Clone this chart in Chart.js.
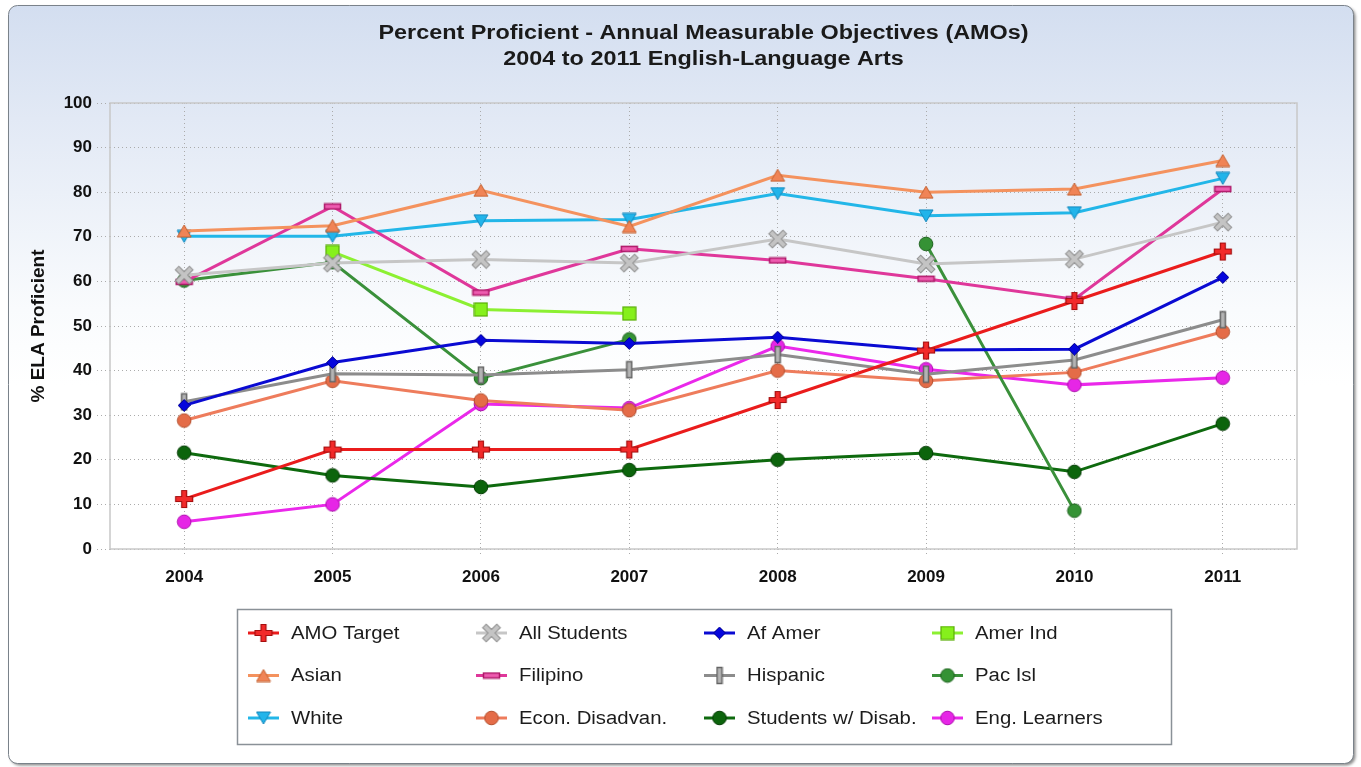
<!DOCTYPE html>
<html>
<head>
<meta charset="utf-8">
<title>Percent Proficient - AMOs</title>
<script src="https://cdn.jsdelivr.net/npm/chart.js"></script>
<style>
  html, body { margin: 0; padding: 0; background: #fff; }
  #wrap { width: 1361px; height: 767px; }
</style>
</head>
<body>
<div id="wrap"><canvas id="myChart" width="1361" height="767"></canvas></div>
<script>
var titleLines = ['Percent Proficient - Annual Measurable Objectives (AMOs)', '2004 to 2011 English-Language Arts'];
var yAxisTitle = '% ELA Proficient';
var years = ['2004', '2005', '2006', '2007', '2008', '2009', '2010', '2011'];

var amoTarget   = [11.2, 22.3, 22.3, 22.3, 33.4, 44.5, 55.6, 66.7];
var allStudents = [61.4, 64.1, 64.9, 64.1, 69.5, 63.9, 65.0, 73.3];
var afAmer      = [32.2, 41.8, 46.8, 46.1, 47.5, 44.6, 44.8, 60.9];
var amerInd     = [null, 66.6, 53.7, 52.8, null, null, null, null];
var asian       = [71.3, 72.5, 80.4, 72.3, 83.8, 80.0, 80.7, 87.1];
var filipino    = [59.9, 76.8, 57.5, 67.3, 64.7, 60.6, 56.0, 80.7];
var hispanic    = [33.0, 39.3, 39.0, 40.2, 43.6, 39.2, 42.4, 51.4];
var pacIsl      = [60.2, 64.3, 38.3, 47.0, null, 68.4, 8.6, null];
var white       = [70.1, 70.1, 73.6, 73.9, 79.7, 74.7, 75.4, 83.1];
var econDisadv  = [28.8, 37.7, 33.3, 31.1, 40.0, 37.7, 39.6, 48.7];
var disabled    = [21.6, 16.5, 13.9, 17.7, 20.0, 21.5, 17.3, 28.1];
var engLearners = [6.1, 10.0, 32.5, 31.6, 45.5, 40.3, 36.8, 38.4];

var FONT = '"Liberation Sans", Arial, sans-serif';
var STRETCH = 1.17;

// little canvases used as point markers (and reused in the legend)
function makeMarker(w, h, paint) {
    var c = document.createElement('canvas');
    c.width = w;
    c.height = h;
    paint(c.getContext('2d'), w, h);
    return c;
}

function plusPath(g, c, len, th) {
    var a = len / 2, b = th / 2;
    g.beginPath();
    g.moveTo(c - b, c - a); g.lineTo(c + b, c - a); g.lineTo(c + b, c - b);
    g.lineTo(c + a, c - b); g.lineTo(c + a, c + b); g.lineTo(c + b, c + b);
    g.lineTo(c + b, c + a); g.lineTo(c - b, c + a); g.lineTo(c - b, c + b);
    g.lineTo(c - a, c + b); g.lineTo(c - a, c - b); g.lineTo(c - b, c - b);
    g.closePath();
}

function plusMarker(fill, stroke) {
    return makeMarker(20, 20, function (g) {
        plusPath(g, 10, 17, 5);
        g.fillStyle = fill; g.fill();
        g.lineWidth = 1.2; g.strokeStyle = stroke; g.stroke();
    });
}

function xMarker(fill, stroke) {
    return makeMarker(22, 22, function (g) {
        g.translate(11, 11); g.rotate(Math.PI / 4); g.translate(-11, -11);
        plusPath(g, 11, 20, 5);
        g.fillStyle = fill; g.fill();
        g.lineWidth = 1; g.strokeStyle = stroke; g.stroke();
    });
}

function diamondMarker(fill, stroke) {
    return makeMarker(13, 13, function (g) {
        g.beginPath();
        g.moveTo(6.5, 0.5); g.lineTo(12.5, 6.5); g.lineTo(6.5, 12.5); g.lineTo(0.5, 6.5);
        g.closePath();
        g.fillStyle = fill; g.fill();
        g.lineWidth = 1; g.strokeStyle = stroke; g.stroke();
    });
}

function squareMarker(fill, stroke) {
    return makeMarker(15, 15, function (g) {
        g.fillStyle = fill; g.fillRect(1, 1, 13, 13);
        g.lineWidth = 1.2; g.strokeStyle = stroke; g.strokeRect(1, 1, 13, 13);
    });
}

function triMarker(fill, stroke, down) {
    return makeMarker(16, 14, function (g) {
        g.beginPath();
        if (down) {
            g.moveTo(1, 1); g.lineTo(15, 1); g.lineTo(8, 13);
        } else {
            g.moveTo(8, 1); g.lineTo(15, 13); g.lineTo(1, 13);
        }
        g.closePath();
        g.fillStyle = fill; g.fill();
        g.lineWidth = 1; g.strokeStyle = stroke; g.stroke();
    });
}

function barMarker(fill, stroke, vertical) {
    var w = vertical ? 8 : 19, h = vertical ? 19 : 8;
    return makeMarker(w, h, function (g) {
        g.fillStyle = fill; g.fillRect(1, 1, w - 2, h - 2);
        g.lineWidth = 1.5; g.strokeStyle = stroke; g.strokeRect(1.5, 1.5, w - 3, h - 3);
    });
}

function dotMarker(fill, stroke) {
    return makeMarker(16, 16, function (g) {
        g.beginPath(); g.arc(8, 8, 6.8, 0, Math.PI * 2);
        g.fillStyle = fill; g.fill();
        g.lineWidth = 1; g.strokeStyle = stroke; g.stroke();
    });
}

function series(label, data, color, marker) {
    return {
        label: label,
        data: data,
        borderColor: color,
        backgroundColor: color,
        borderWidth: 3,
        pointStyle: marker,
        pointRadius: 7,
        tension: 0,
        fill: false
    };
}

var datasets = [
    series('AMO Target', amoTarget, '#ea1c1c', plusMarker('#f22a2a', '#a50e0e')),
    series('All Students', allStudents, '#c6c6c6', xMarker('#c4c4c4', '#8e8e8e')),
    series('Af Amer', afAmer, '#0a0ad2', diamondMarker('#0606dc', '#00008a')),
    series('Amer Ind', amerInd, '#8cf032', squareMarker('#86f01c', '#5aae08')),
    series('Asian', asian, '#f4925e', triMarker('#f08456', '#c4602e', false)),
    series('Filipino', filipino, '#df379a', barMarker('#ee5cb0', '#ad1868', false)),
    series('Hispanic', hispanic, '#8c8c8c', barMarker('#b4b4b4', '#646464', true)),
    series('Pac Isl', pacIsl, '#3a903a', dotMarker('#359235', '#1d621d')),
    series('White', white, '#22b6e8', triMarker('#22b4ea', '#1286bc', true)),
    series('Econ. Disadvan.', econDisadv, '#ee7c5c', dotMarker('#e46c48', '#b4502e')),
    series('Students w/ Disab.', disabled, '#0e6a0e', dotMarker('#0c640c', '#043c04')),
    series('Eng. Learners', engLearners, '#ea28ea', dotMarker('#e626e6', '#ae0cae'))
];

var framePlugin = {
    id: 'frame',
    beforeDraw: function (chart) {
        var ctx = chart.ctx;
        ctx.save();
        ctx.beginPath();
        ctx.roundRect(8.5, 5.5, 1345, 758, 9);
        var grad = ctx.createLinearGradient(0, 5, 0, 765);
        grad.addColorStop(0, '#d3def0');
        grad.addColorStop(0.15, '#e2e9f5');
        grad.addColorStop(0.4, '#f9fbfd');
        grad.addColorStop(0.5, '#ffffff');
        grad.addColorStop(1, '#ffffff');
        ctx.shadowColor = 'rgba(0,0,0,0.45)';
        ctx.shadowOffsetX = 2;
        ctx.shadowOffsetY = 2;
        ctx.shadowBlur = 3;
        ctx.fillStyle = grad;
        ctx.fill();
        ctx.shadowColor = 'transparent';
        ctx.lineWidth = 1;
        ctx.strokeStyle = '#7a828a';
        ctx.stroke();

        // title, centred over the plot
        var area = chart.chartArea;
        var cx = (area.left + area.right) / 2;
        ctx.fillStyle = '#1a1a1a';
        ctx.font = 'bold 20px ' + FONT;
        ctx.textAlign = 'center';
        ctx.textBaseline = 'middle';
        titleLines.forEach(function (t, i) {
            ctx.save();
            ctx.translate(cx, 33 + i * 26);
            ctx.scale(STRETCH, 1);
            ctx.fillText(t, 0, 0);
            ctx.restore();
        });
        ctx.restore();
    },
    beforeDatasetsDraw: function (chart) {
        var a = chart.chartArea, ctx = chart.ctx;
        ctx.save();
        ctx.lineWidth = 1.5;
        ctx.strokeStyle = '#c8c8c8';
        ctx.strokeRect(a.left, a.top, a.right - a.left, a.bottom - a.top);
        ctx.restore();
    }
};

var legendPlugin = {
    id: 'gridLegend',
    afterDraw: function (chart) {
        var ctx = chart.ctx;
        ctx.save();
        ctx.fillStyle = '#ffffff';
        ctx.fillRect(237.5, 609.5, 934, 135);
        ctx.lineWidth = 1.5;
        ctx.strokeStyle = '#8a9197';
        ctx.strokeRect(237.5, 609.5, 934, 135);
        ctx.font = '18px ' + FONT;
        ctx.textBaseline = 'middle';
        ctx.textAlign = 'left';
        chart.data.datasets.forEach(function (ds, i) {
            var col = i % 4, row = Math.floor(i / 4);
            var x0 = 248 + col * 228, y = 633 + row * 42.5;
            ctx.beginPath();
            ctx.moveTo(x0, y);
            ctx.lineTo(x0 + 31, y);
            ctx.lineWidth = 3;
            ctx.strokeStyle = ds.borderColor;
            ctx.stroke();
            var m = ds.pointStyle;
            ctx.drawImage(m, x0 + 15.5 - m.width / 2, y - m.height / 2);
            ctx.save();
            ctx.translate(x0 + 43, y + 1);
            ctx.scale(1.13, 1);
            ctx.fillStyle = '#1c1c1c';
            ctx.fillText(ds.label, 0, 0);
            ctx.restore();
        });
        ctx.restore();
    }
};

var ctx = document.getElementById('myChart').getContext('2d');

var myChart = new Chart(ctx, {
    type: 'line',
    data: {
        labels: years,
        datasets: datasets
    },
    plugins: [framePlugin, legendPlugin],
    options: {
        responsive: false,
        animation: false,
        events: [],
        layout: {
            padding: { top: 103, right: 64, bottom: 0, left: 0 }
        },
        plugins: {
            legend: { display: false },
            title: { display: false },
            tooltip: { enabled: false }
        },
        scales: {
            x: {
                offset: true,
                afterFit: function (s) { s.height = 218; },
                grid: {
                    color: '#ababab',
                    lineWidth: 1,
                    tickLength: 8,
                    tickColor: '#ababab',
                    tickBorderDash: [1, 3]
                },
                border: { display: false, dash: [1, 3] },
                ticks: {
                    color: '#111',
                    padding: 10,
                    maxRotation: 0,
                    font: { family: FONT, size: 17, weight: 'bold' }
                }
            },
            y: {
                min: 0,
                max: 100,
                afterFit: function (s) { s.width = 110; },
                grid: {
                    color: '#ababab',
                    lineWidth: 1,
                    tickLength: 13,
                    tickColor: '#ababab',
                    tickBorderDash: [1, 3]
                },
                border: { display: false, dash: [1, 3] },
                ticks: {
                    stepSize: 10,
                    color: '#111',
                    padding: 5,
                    font: { family: FONT, size: 17, weight: 'bold' }
                },
                title: {
                    display: true,
                    text: yAxisTitle,
                    color: '#111',
                    padding: { top: 27, bottom: 4 },
                    font: { family: FONT, size: 19, weight: 'bold' }
                }
            }
        }
    }
});
</script>
</body>
</html>
